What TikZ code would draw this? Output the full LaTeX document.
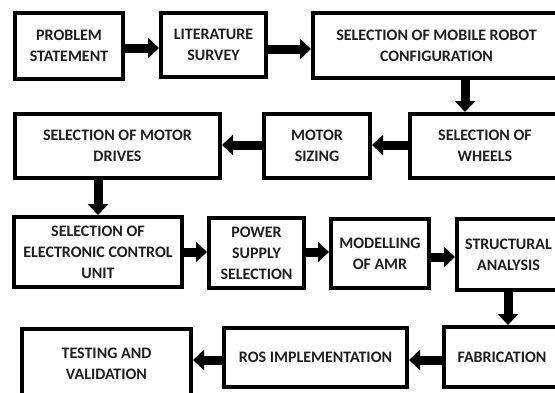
\documentclass[tikz,border=0pt]{standalone}
\usepackage{fontspec}
\setmainfont{Carlito}
\usetikzlibrary{arrows.meta}
\begin{document}
\begin{tikzpicture}[x=1pt,y=-1pt,
  box/.style={draw=black, line width=4pt, fill=white, align=center, inner sep=0pt,
    font=\fontsize{16pt}{21pt}\selectfont\bfseries, text=black!88},
  arr/.style={line width=9pt, -{Triangle[length=11pt,width=20pt]}}]
\useasboundingbox (0,0) rectangle (555,392);
\clip (0,0) rectangle (555,392);
% row 1
\node[box, minimum width=108pt, minimum height=66pt] (prob) at (69,46) {PROBLEM\\STATEMENT};
\node[box, minimum width=105pt, minimum height=64pt] (lit) at (213.5,45) {LITERATURE\\SURVEY};
\node[box, minimum width=247pt, minimum height=65pt] (conf) at (436.5,45.5) {SELECTION OF MOBILE ROBOT\\CONFIGURATION};
% row 2
\node[box, minimum width=205pt, minimum height=64pt] (drv) at (117.5,146) {SELECTION OF MOTOR\\DRIVES};
\node[box, minimum width=106pt, minimum height=64pt] (size) at (317,146) {MOTOR\\SIZING};
\node[box, minimum width=150pt, minimum height=64pt] (whl) at (485,146) {SELECTION OF\\WHEELS};
% row 3
\node[box, minimum width=168pt, minimum height=70pt] (ecu) at (98,252) {SELECTION OF\\ELECTRONIC CONTROL\\UNIT};
\node[box, minimum width=95pt, minimum height=70pt] (pow) at (256.5,253) {POWER\\SUPPLY\\SELECTION};
\node[box, minimum width=98pt, minimum height=69pt] (mod) at (380,253.5) {MODELLING\\OF AMR};
\node[box, minimum width=103pt, minimum height=71pt] (str) at (508.5,254.5) {STRUCTURAL\\ANALYSIS};
% row 4
\node[box, minimum width=169pt, minimum height=69pt] (test) at (106.5,363.5) {TESTING AND\\VALIDATION};
\node[box, minimum width=183pt, minimum height=59pt] (ros) at (315.5,357.5) {ROS IMPLEMENTATION};
\node[box, minimum width=116pt, minimum height=60pt] (fab) at (502,357) {FABRICATION};
% arrows
\draw[arr] (prob.east |- 0,48) -- (lit.west |- 0,48);
\draw[arr] (lit.east |- 0,49) -- (conf.west |- 0,49);
\draw[arr] (conf.south -| 465,0) -- (whl.north -| 465,0);
\draw[arr] (whl.west |- 0,145) -- (size.east |- 0,145);
\draw[arr] (size.west |- 0,145) -- (drv.east |- 0,145);
\draw[arr] (drv.south -| 98,0) -- (ecu.north -| 98,0);
\draw[arr] (ecu.east |- 0,252) -- (pow.west |- 0,252);
\draw[arr] (pow.east |- 0,252) -- (mod.west |- 0,252);
\draw[arr] (mod.east |- 0,257) -- (str.west |- 0,257);
\draw[arr] (str.south -| 508,0) -- (fab.north -| 508,0);
\draw[arr] (fab.west |- 0,360) -- (ros.east |- 0,360);
\draw[arr] (ros.west |- 0,360) -- (test.east |- 0,360);
\end{tikzpicture}
\end{document}
